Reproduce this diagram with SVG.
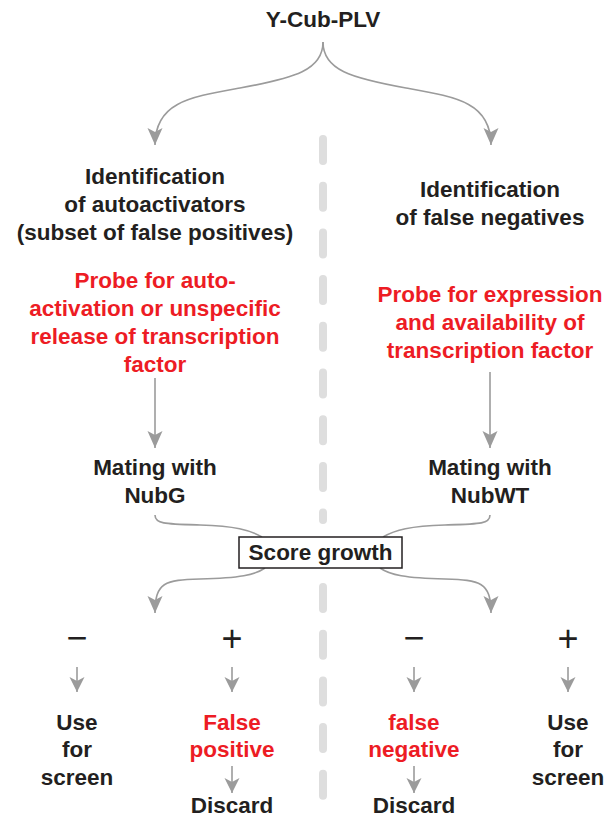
<svg xmlns="http://www.w3.org/2000/svg" width="612" height="817" viewBox="0 0 612 817">
<defs>
<style>
text{font-family:"Liberation Sans",Arial,Helvetica,sans-serif;font-weight:bold;font-size:22.5px;text-anchor:middle;fill:#231f20}
.red{fill:#ed1c24}
.sign{font-weight:normal;font-size:36px}
.conn{fill:none;stroke:#9b9b9b;stroke-width:1.6}
.arr{marker-end:url(#ah)}
.sarr{marker-end:url(#sh)}
.divider{fill:none;stroke:#dedede;stroke-width:8;stroke-linecap:round;stroke-dasharray:22 24.7}
</style>
<marker id="ah" viewBox="-18 -8 19 16" refX="0" refY="0" markerWidth="19" markerHeight="16" markerUnits="userSpaceOnUse" orient="auto">
<path d="M0,0 L-17,-7.5 L-13,0 L-17,7.5 Z" fill="#9b9b9b"/>
</marker>
<marker id="sh" viewBox="-16 -8 17 16" refX="0" refY="0" markerWidth="17" markerHeight="16" markerUnits="userSpaceOnUse" orient="auto">
<path d="M0,0 L-15,-7.5 L-11,0 L-15,7.5 Z" fill="#9b9b9b"/>
</marker>
</defs>
<rect width="612" height="817" fill="#ffffff"/>

<g id="divider">
<path class="divider" d="M323,139 L323,520"/>
<path class="divider" d="M323,587 L323,800"/>
</g>

<g id="connectors">
<path class="conn arr" d="M323,42 C323,70 295,78 240,88 C190,97 155,102 155,145"/>
<path class="conn arr" d="M323,42 C323,70 351,78 406,88 C456,97 491,102 491,145"/>
<path class="conn arr" d="M155,378 L155,448"/>
<path class="conn arr" d="M490,372 L490,448"/>
<path class="conn" d="M155,515 C155,524 165,524 200,525 C235,526 250,530 262,537"/>
<path class="conn" d="M490,515 C490,524 480,524 445,525 C410,526 395,530 383,537"/>
<path class="conn arr" d="M265,568 C255,575 240,578 200,579 C165,580 155,582 155,613"/>
<path class="conn arr" d="M380,568 C390,575 405,578 445,579 C480,580 491,582 491,613"/>
<path class="conn sarr" d="M77,667 L77,692"/>
<path class="conn sarr" d="M232,667 L232,692"/>
<path class="conn sarr" d="M414,667 L414,692"/>
<path class="conn sarr" d="M568,667 L568,692"/>
<path class="conn sarr" d="M232,766 L232,793"/>
<path class="conn sarr" d="M414,766 L414,793"/>
</g>

<g id="root"><text x="323" y="27">Y-Cub-PLV</text></g>

<g id="left-id">
<text x="155" y="184">Identification</text>
<text x="155" y="212">of autoactivators</text>
<text x="155" y="240">(subset of false positives)</text>
</g>
<g id="left-probe">
<text class="red" x="155" y="288">Probe for auto-</text>
<text class="red" x="155" y="316">activation or unspecific</text>
<text class="red" x="155" y="344">release of transcription</text>
<text class="red" x="155" y="372">factor</text>
</g>
<g id="right-id">
<text x="490" y="197">Identification</text>
<text x="490" y="225">of false negatives</text>
</g>
<g id="right-probe">
<text class="red" x="490" y="302">Probe for expression</text>
<text class="red" x="490" y="330">and availability of</text>
<text class="red" x="490" y="358">transcription factor</text>
</g>
<g id="left-mating">
<text x="155" y="475">Mating with</text>
<text x="155" y="503">NubG</text>
</g>
<g id="right-mating">
<text x="490" y="475">Mating with</text>
<text x="490" y="503">NubWT</text>
</g>
<g id="score">
<rect x="239" y="537" width="163" height="31" fill="#ffffff" stroke="#231f20" stroke-width="1.5"/>
<text x="320.5" y="560">Score growth</text>
</g>

<g id="minus-left"><text class="sign" x="77" y="650">−</text></g>
<g id="plus-left"><text class="sign" x="232" y="651">+</text></g>
<g id="minus-right"><text class="sign" x="414" y="650">−</text></g>
<g id="plus-right"><text class="sign" x="568" y="651">+</text></g>

<g id="use-left">
<text x="77" y="730">Use</text>
<text x="77" y="757">for</text>
<text x="77" y="785">screen</text>
</g>
<g id="false-positive">
<text class="red" x="232" y="730">False</text>
<text class="red" x="232" y="757">positive</text>
</g>
<g id="discard-left"><text x="232" y="813">Discard</text></g>
<g id="false-negative">
<text class="red" x="414" y="730">false</text>
<text class="red" x="414" y="757">negative</text>
</g>
<g id="discard-right"><text x="414" y="813">Discard</text></g>
<g id="use-right">
<text x="568" y="730">Use</text>
<text x="568" y="757">for</text>
<text x="568" y="785">screen</text>
</g>
</svg>
